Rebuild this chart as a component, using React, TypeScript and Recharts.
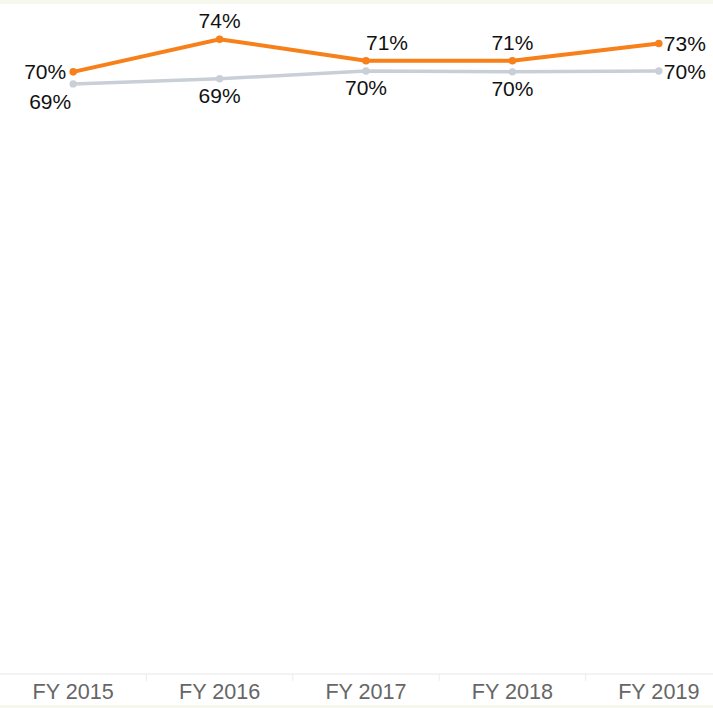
import React from "react";
import { LineChart, Line, XAxis, YAxis, LabelList } from "recharts";

const categories = ["FY 2015", "FY 2016", "FY 2017", "FY 2018", "FY 2019"];
const orangeValues = [0.701, 0.739, 0.714, 0.714, 0.734];
const grayValues = [0.687, 0.693, 0.702, 0.701, 0.702];

// label placement per point (layout config)
const orangeLabelPlacement = ["left", "above", "above-right", "above", "right"];
const grayLabelPlacement = ["below-left", "below", "below", "below", "right"];

const data = categories.map((c, i) => ({ name: c, orange: orangeValues[i], gray: grayValues[i] }));

const CHART_W = 732;
const BAND = CHART_W / categories.length;
const FONT = "'Liberation Sans', Arial, sans-serif";

const fmt = (v: number) => `${Math.round(v * 100)}%`;

const makeLabel = (placement: string[]) => (props: any) => {
  const { x, y, value, index } = props;
  const p = placement[index];
  let tx = x;
  let ty = y;
  let anchor: "start" | "middle" | "end" = "middle";
  if (p === "left") { tx = x - 7; ty = y + 7.5; anchor = "end"; }
  else if (p === "right") { tx = x + 5; ty = y + 7.5; anchor = "start"; }
  else if (p === "above") { ty = y - 11; }
  else if (p === "above-right") { tx = x + 21; ty = y - 11; }
  else if (p === "below") { ty = y + 24; }
  else if (p === "below-left") { tx = x - 23; ty = y + 25; }
  return (
    <text x={tx} y={ty} textAnchor={anchor} fontFamily={FONT} fontSize={21} fill="#111">
      {fmt(value)}
    </text>
  );
};

const Tick = (props: any) => {
  const { x, payload, index } = props;
  return (
    <g>
      {index > 0 && (
        <line x1={x - BAND / 2} x2={x - BAND / 2} y1={670} y2={677} stroke="#ececec" strokeWidth={1} />
      )}
      <text x={x} y={695} textAnchor="middle" fontFamily={FONT} fontSize={21.6} fill="#666">
        {payload.value}
      </text>
    </g>
  );
};

export default function App() {
  return (
    <div
      style={{
        position: "absolute",
        left: 0,
        top: 0,
        width: 713,
        height: 708,
        overflow: "hidden",
        background: "#ffffff",
      }}
    >
      <div style={{ position: "absolute", left: 0, top: 0, width: 713, height: 4, background: "#f6f8ee" }} />
      <div style={{ position: "absolute", left: 0, top: 705, width: 713, height: 3, background: "#f6f8ee" }} />
      <div style={{ position: "absolute", left: 0, top: 4 }}>
        <LineChart width={CHART_W} height={701} data={data} margin={{ top: 0, right: 0, bottom: 0, left: 0 }}>
          <XAxis
            dataKey="name"
            scale="point"
            padding={{ left: BAND / 2, right: BAND / 2 }}
            height={31}
            axisLine={{ stroke: "#e8e8e8", strokeWidth: 1 }}
            tickLine={false}
            tick={<Tick />}
            interval={0}
          />
          <YAxis hide domain={[0, 0.78]} type="number" />
          <Line
            dataKey="gray"
            stroke="#c9cfd7"
            strokeWidth={3.5}
            dot={{ r: 3.7, fill: "#c9cfd7", stroke: "none" }}
            isAnimationActive={false}
          >
            <LabelList dataKey="gray" content={makeLabel(grayLabelPlacement)} />
          </Line>
          <Line
            dataKey="orange"
            stroke="#f7801a"
            strokeWidth={4}
            dot={{ r: 3.8, fill: "#f7801a", stroke: "none" }}
            isAnimationActive={false}
          >
            <LabelList dataKey="orange" content={makeLabel(orangeLabelPlacement)} />
          </Line>
        </LineChart>
      </div>
    </div>
  );
}
